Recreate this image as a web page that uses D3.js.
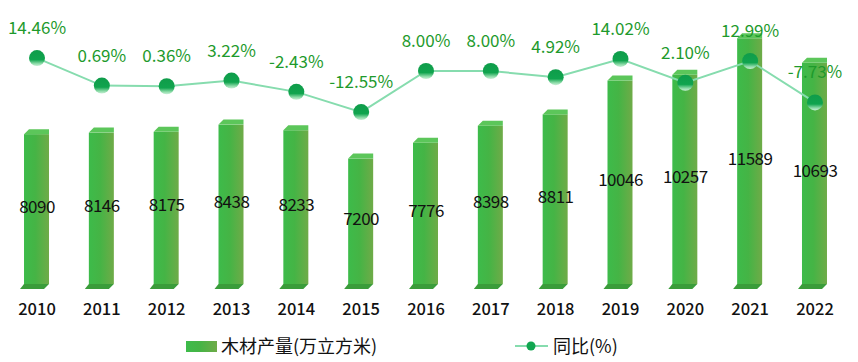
<!DOCTYPE html>
<html>
<head>
<meta charset="utf-8">
<script src="https://cdn.jsdelivr.net/npm/d3@7"></script>
<style>
  body { margin: 0; background: #fff; }
  text { font-family: "Noto Sans CJK SC", "Noto Sans", sans-serif; }
</style>
</head>
<body>
<div class="chart"></div>
<script>
const years = ["2010", "2011", "2012", "2013", "2014", "2015", "2016", "2017", "2018", "2019", "2020", "2021", "2022"];
const output = [8090, 8146, 8175, 8438, 8233, 7200, 7776, 8398, 8811, 10046, 10257, 11589, 10693];
const growth = [14.46, 0.69, 0.36, 3.22, -2.43, -12.55, 8.00, 8.00, 4.92, 14.02, 2.10, 12.99, -7.73];
const seriesNames = ["木材产量(万立方米)", "同比(%)"];

const width = 858, height = 362;

const svg = d3.select(".chart")
              .append("svg")
                .attr("width", width)
                .attr("height", height);

const defs = svg.append("defs");
const barGrad = defs.append("linearGradient").attr("id", "barGrad")
                    .attr("x1", "0").attr("x2", "1").attr("y1", "0").attr("y2", "0");
barGrad.append("stop").attr("offset", "0").attr("stop-color", "#3dbb4a");
barGrad.append("stop").attr("offset", "0.45").attr("stop-color", "#45b445");
barGrad.append("stop").attr("offset", "1").attr("stop-color", "#6fab48");

const dotGrad = defs.append("linearGradient").attr("id", "dotGrad")
                    .attr("x1", "0").attr("x2", "0").attr("y1", "0").attr("y2", "1");
dotGrad.append("stop").attr("offset", "0").attr("stop-color", "#0f9c4a");
dotGrad.append("stop").attr("offset", "0.6").attr("stop-color", "#10a44e");
dotGrad.append("stop").attr("offset", "0.85").attr("stop-color", "#8fdcaa");
dotGrad.append("stop").attr("offset", "1").attr("stop-color", "#c9f0d6");

const x = d3.scaleBand()
            .domain(years)
            .range([4.6, 847.4])
            .padding(0);

const yBar = d3.scaleLinear()
               .domain([2440, 12000])
               .range([284, 22]);

const yLine = d3.scaleLinear()
                .domain([-15, 20])
                .range([117, 47]);

const cx = d => x(d) + x.bandwidth() / 2;
const barW = 25, depth = 5;

/* bars */
const bars = svg.append("g").selectAll("g")
                .data(years.map((d, i) => ({ year: d, value: output[i] })))
                .enter()
                .append("g");

bars.append("path")
    .attr("fill", "#3a9c3a")
    .attr("d", d => {
        const l = cx(d.year) - 13, b = yBar.range()[0];
        return "M" + l + "," + b + " L" + (l + barW) + "," + b +
               " L" + (l + barW - depth) + "," + (b + depth) + " L" + (l - depth + 1) + "," + (b + depth) + " Z";
    });

bars.append("rect")
    .attr("x", d => cx(d.year) - 13)
    .attr("y", d => yBar(d.value) + depth)
    .attr("width", barW)
    .attr("height", d => yBar.range()[0] - yBar(d.value) - depth)
    .attr("fill", "url(#barGrad)");

bars.append("path")
    .attr("fill", "#5cc65a")
    .attr("d", d => {
        const l = cx(d.year) - 13, t = yBar(d.value);
        return "M" + l + "," + (t + depth) + " L" + (l + depth) + "," + t +
               " L" + (l + barW) + "," + t + " L" + (l + barW) + "," + (t + depth) + " Z";
    });

bars.append("text")
    .attr("x", d => cx(d.year))
    .attr("y", d => (yBar(d.value) + yBar.range()[0]) / 2)
    .attr("dy", "0.35em")
    .attr("text-anchor", "middle")
    .attr("font-size", "17px")
    .attr("fill", "#111")
    .attr("letter-spacing", "-0.5px")
    .text(d => d.value);

/* line */
const line = d3.line()
               .x((d, i) => cx(years[i]))
               .y(d => yLine(d));

svg.append("path")
   .datum(growth)
   .attr("fill", "none")
   .attr("stroke", "#86dcae")
   .attr("stroke-width", 2)
   .attr("d", line);

svg.append("g").selectAll("circle")
   .data(growth)
   .enter()
   .append("circle")
   .attr("cx", (d, i) => cx(years[i]))
   .attr("cy", d => yLine(d))
   .attr("r", 8)
   .attr("fill", "url(#dotGrad)");

svg.append("g").selectAll("text")
   .data(growth)
   .enter()
   .append("text")
   .attr("x", (d, i) => cx(years[i]))
   .attr("y", d => yLine(d) - 24)
   .attr("text-anchor", "middle")
   .attr("font-size", "17px")
   .attr("fill", "#1e9a2c")
   .text(d => d.toFixed(2) + "%");

/* x axis labels */
svg.append("g").selectAll("text")
   .data(years)
   .enter()
   .append("text")
   .attr("x", d => cx(d))
   .attr("y", 315)
   .attr("text-anchor", "middle")
   .attr("font-size", "16.5px")
   .attr("font-weight", "500")
   .attr("fill", "#111")
   .text(d => d);

/* legend */
const legend = svg.append("g");
legend.append("rect")
      .attr("x", 186).attr("y", 341)
      .attr("width", 31).attr("height", 11)
      .attr("fill", "url(#barGrad)");
legend.append("text")
      .attr("x", 221).attr("y", 353)
      .attr("font-size", "18px")
      .attr("fill", "#111")
      .text(seriesNames[0]);

legend.append("line")
      .attr("x1", 515).attr("x2", 548)
      .attr("y1", 346).attr("y2", 346)
      .attr("stroke", "#86dcae")
      .attr("stroke-width", 2);
legend.append("circle")
      .attr("cx", 531).attr("cy", 346).attr("r", 4.5)
      .attr("fill", "#11a650");
legend.append("text")
      .attr("x", 553).attr("y", 353)
      .attr("font-size", "18px")
      .attr("fill", "#111")
      .text(seriesNames[1]);
</script>
</body>
</html>
